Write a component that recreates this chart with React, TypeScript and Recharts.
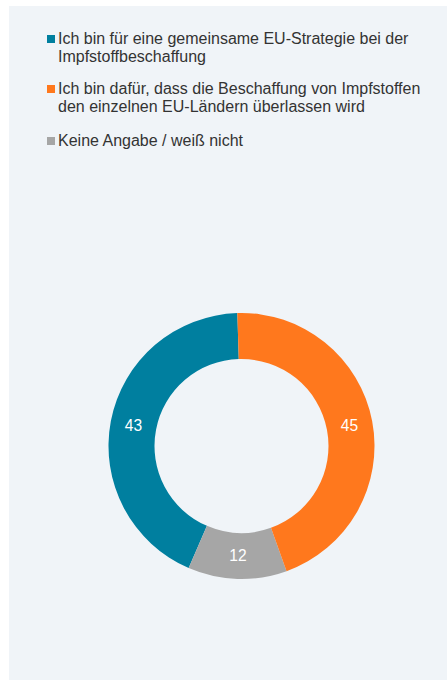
import React from "react";
import { PieChart, Pie, Cell } from "recharts";

const categories = [
  "Ich bin für eine gemeinsame EU-Strategie bei der Impfstoffbeschaffung",
  "Keine Angabe / weiß nicht",
  "Ich bin dafür, dass die Beschaffung von Impfstoffen den einzelnen EU-Ländern überlassen wird",
];
const values = [43, 12, 45];
const colors = ["#007f9f", "#a6a6a6", "#ff781d"];
const legendOrder = [0, 2, 1];

const data = categories.map((name, i) => ({ name, value: values[i], color: colors[i] }));

const RADIAN = Math.PI / 180;
const FONT = "'Liberation Sans', Arial, sans-serif";

const renderLabel = (props: any) => {
  const { cx, cy, midAngle, innerRadius, outerRadius, value } = props;
  const r = (innerRadius + outerRadius) / 2;
  const x = cx + r * Math.cos(-midAngle * RADIAN);
  const y = cy + r * Math.sin(-midAngle * RADIAN);
  return (
    <text
      x={x}
      y={y}
      fill="#ffffff"
      textAnchor="middle"
      dominantBaseline="central"
      fontSize={15.6}
      fontFamily={FONT}
    >
      {value}
    </text>
  );
};

const LegendBlock = () => (
  <div
    style={{
      position: "absolute",
      left: 38,
      top: 24,
      fontFamily: FONT,
      fontSize: 16,
      lineHeight: "18px",
      color: "#333333",
    }}
  >
    {legendOrder.map((idx, k) => (
      <div key={idx} style={{ position: "relative", paddingLeft: 11, marginBottom: k === 0 ? 14 : 16, width: 380 }}>
        <span
          style={{
            position: "absolute",
            left: 0,
            top: 5,
            width: 8,
            height: 8,
            background: data[idx].color,
          }}
        />
        {data[idx].name}
      </div>
    ))}
  </div>
);

export default function App() {
  return (
    <div
      style={{
        position: "absolute",
        left: 9,
        top: 6,
        width: 438,
        height: 674,
        background: "#f0f4f8",
      }}
    >
      <PieChart width={438} height={674} margin={{ top: 0, right: 0, bottom: 0, left: 0 }}>
        <Pie
          data={data}
          dataKey="value"
          nameKey="name"
          cx={232.5}
          cy={440}
          innerRadius={87}
          outerRadius={133}
          startAngle={91.8}
          endAngle={451.8}
          stroke="none"
          label={renderLabel}
          labelLine={false}
          isAnimationActive={false}
        >
          {data.map((d, i) => (
            <Cell key={i} fill={d.color} />
          ))}
        </Pie>
      </PieChart>
      <LegendBlock />
    </div>
  );
}
